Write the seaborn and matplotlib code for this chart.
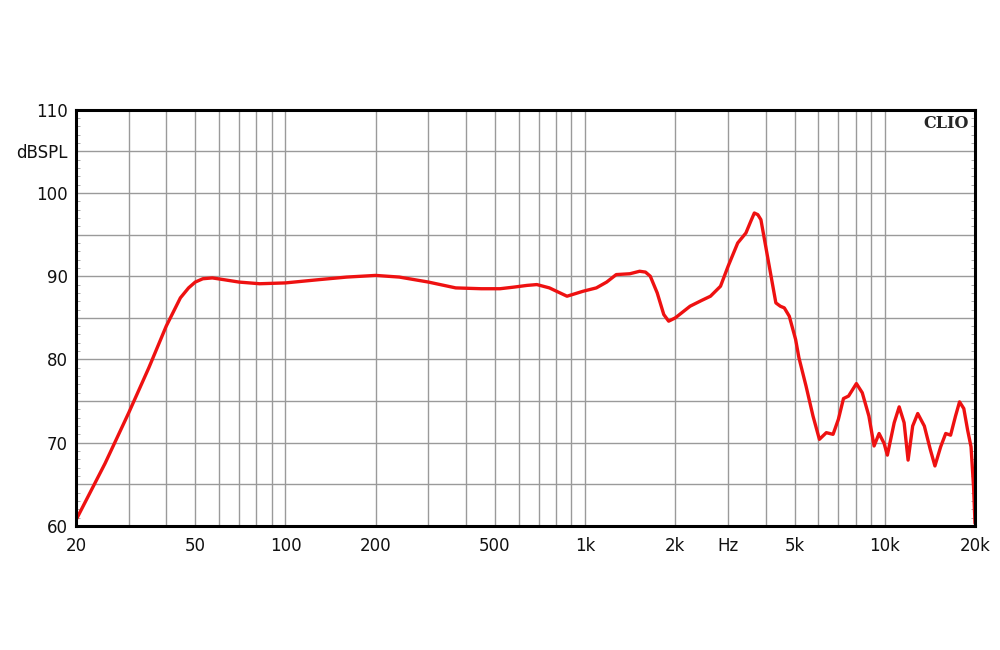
import matplotlib
matplotlib.use("Agg")
import matplotlib.pyplot as plt
import seaborn as sns
import pandas as pd
import numpy as np
from matplotlib.ticker import FixedLocator, NullFormatter, MultipleLocator

freq_hz = [20, 25, 30, 35, 40, 44.6, 47.5, 50, 53, 57, 62, 70, 82, 100, 130, 160, 200, 240,
           300, 370, 450, 520, 580, 640, 690, 760, 870, 985, 1090, 1180, 1270, 1410,
           1520, 1590, 1650, 1740, 1830, 1900, 2000, 2240, 2450, 2620, 2830, 3000, 3230,
           3440, 3570, 3670, 3770, 3860, 4060, 4330, 4480, 4620, 4800, 5040, 5170, 5460, 5760, 6050,
           6380, 6720, 7000, 7280, 7570, 8040, 8410, 8850, 9210, 9570, 9950, 10200,
           10750, 11170, 11600, 11960, 12390, 12880, 13550, 14180, 14700, 15360,
           15970, 16580, 17220, 17760, 18350, 18900, 19400, 19780, 20000]
spl_db = [60.7, 67.5, 73.6, 79.0, 84.0, 87.4, 88.6, 89.3, 89.7, 89.8, 89.6, 89.3, 89.1, 89.2,
          89.6, 89.9, 90.1, 89.9, 89.3, 88.6, 88.5, 88.5, 88.7, 88.9, 89.0, 88.6, 87.6,
          88.2, 88.6, 89.3, 90.2, 90.3, 90.6, 90.5, 90.0, 88.0, 85.4, 84.6, 85.0, 86.4,
          87.1, 87.6, 88.8, 91.2, 94.0, 95.2, 96.6, 97.6, 97.4, 96.8, 92.4, 86.8, 86.4, 86.2, 85.2,
          82.4, 80.2, 76.8, 73.2, 70.4, 71.2, 71.0, 72.8, 75.3, 75.6, 77.1, 76.0,
          73.2, 69.6, 71.1, 69.9, 68.5, 72.4, 74.3, 72.4, 67.9, 72.0, 73.5, 72.0,
          69.2, 67.2, 69.5, 71.1, 70.9, 73.2, 74.9, 74.1, 71.5, 69.5, 64.7, 60.3]

x_tick_values = [20, 50, 100, 200, 500, 1000, 2000, 3000, 5000, 10000, 20000]
x_tick_labels = ["20", "50", "100", "200", "500", "1k", "2k", "Hz", "5k", "10k", "20k"]
y_tick_values = [60, 70, 80, 90, 100, 105, 110]
y_tick_labels = ["60", "70", "80", "90", "100", "dBSPL", "110"]

df = pd.DataFrame({"freq": freq_hz, "spl": spl_db})

sns.set_style("white")
plt.rcParams["font.family"] = ["DejaVu Sans"]

fig = plt.figure(figsize=(10, 6.5), dpi=100)
ax = fig.add_axes([0.076, 0.191, 0.899, 0.640])

grid_x = [f * m for m in (10, 100, 1000) for f in range(1, 11)]
grid_x = sorted(set(g for g in grid_x if 20 < g < 20000))
for g in grid_x:
    ax.axvline(g, color="#9a9a9a", lw=1.0, zorder=1)
for h in range(65, 110, 5):
    ax.axhline(h, color="#9a9a9a", lw=1.0, zorder=1)

sns.lineplot(data=df, x="freq", y="spl", ax=ax, color="#ee1111", lw=2.4,
             sort=False, zorder=3, solid_joinstyle="round")

ax.set_xscale("log")
ax.set_xlim(20, 20000)
ax.set_ylim(60, 110)
ax.xaxis.set_major_locator(FixedLocator(x_tick_values))
ax.set_xticklabels(x_tick_labels)
ax.xaxis.set_minor_locator(FixedLocator([]))
ax.xaxis.set_minor_formatter(NullFormatter())
ax.set_yticks(y_tick_values)
ax.set_yticklabels(y_tick_labels)
ax.yaxis.set_minor_locator(MultipleLocator(1))
ax.tick_params(axis="x", length=0, pad=8, labelsize=12, colors="#111111")
ax.tick_params(axis="y", which="major", length=0, pad=6, labelsize=12, colors="#111111")
ax.tick_params(axis="y", which="minor", direction="in", length=3, width=0.7,
               color="#aaaaaa", left=True, right=True)
ax.set_xlabel("")
ax.set_ylabel("")

for s in ax.spines.values():
    s.set_visible(True)
    s.set_color("black")
    s.set_linewidth(2.2)
    s.set_zorder(4)

ax.text(0.993, 0.988, "CLIO", transform=ax.transAxes, ha="right", va="top",
        fontsize=11.5, fontweight="bold", family=["DejaVu Serif"],
        zorder=5)

fig.savefig("out.png", dpi=100, facecolor="white")
